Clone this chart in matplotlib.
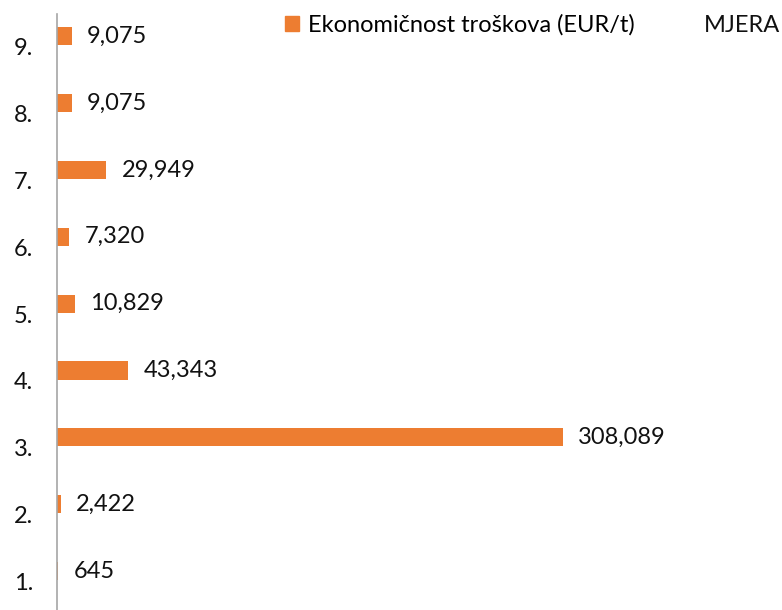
import matplotlib
matplotlib.use("Agg")
import matplotlib.pyplot as plt
import matplotlib.transforms as mtransforms
from matplotlib.patches import Patch

# data
categories = ["1.", "2.", "3.", "4.", "5.", "6.", "7.", "8.", "9."]
values = [645, 2422, 308089, 43343, 10829, 7320, 29949, 9075, 9075]
value_labels = ["645", "2,422", "308,089", "43,343", "10,829", "7,320", "29,949", "9,075", "9,075"]
series_name = "Ekonomičnost troškova (EUR/t)"
axis_title = "MJERA"

ORANGE = "#ED7D31"
plt.rcParams["font.family"] = ["Lato", "DejaVu Sans"]
FS = 17

fig = plt.figure(figsize=(7.82, 6.10), dpi=100)
ax = fig.add_axes([57 / 782, 0, 725 / 782, 596 / 610])

y = list(range(len(categories)))
ax.barh(y, values, height=0.27, color=ORANGE)
ax.set_xlim(0, 308089 * 725 / 506)
ax.set_ylim(-0.58, 8.33)

for yi, v, lab in zip(y, values, value_labels):
    ax.annotate(lab, (v, yi), xytext=(11, 0), textcoords="offset points",
                va="center", ha="left", fontsize=FS, color="#111111")

ax.set_yticks(y)
ax.set_yticklabels(categories, fontsize=FS, color="#111111")
ax.tick_params(axis="y", length=0, pad=17)
offset = mtransforms.ScaledTranslation(0, -7.5 / 72, fig.dpi_scale_trans)
for lbl in ax.get_yticklabels():
    lbl.set_transform(lbl.get_transform() + offset)

ax.set_xticks([])
for s in ["top", "right", "bottom"]:
    ax.spines[s].set_visible(False)
ax.spines["left"].set_color("#A6A6A6")
ax.spines["left"].set_linewidth(1.2)

fig.legend(handles=[Patch(color=ORANGE, label=series_name)], loc="center left",
           bbox_to_anchor=(273 / 782, 1 - 25 / 610), frameon=False, fontsize=FS,
           handlelength=0.6, handleheight=0.6, handletextpad=0.4, borderpad=0)
fig.text(704 / 782, 1 - 25 / 610, axis_title, fontsize=FS, va="center", ha="left", color="#111111")

fig.savefig("out.png", dpi=100)
